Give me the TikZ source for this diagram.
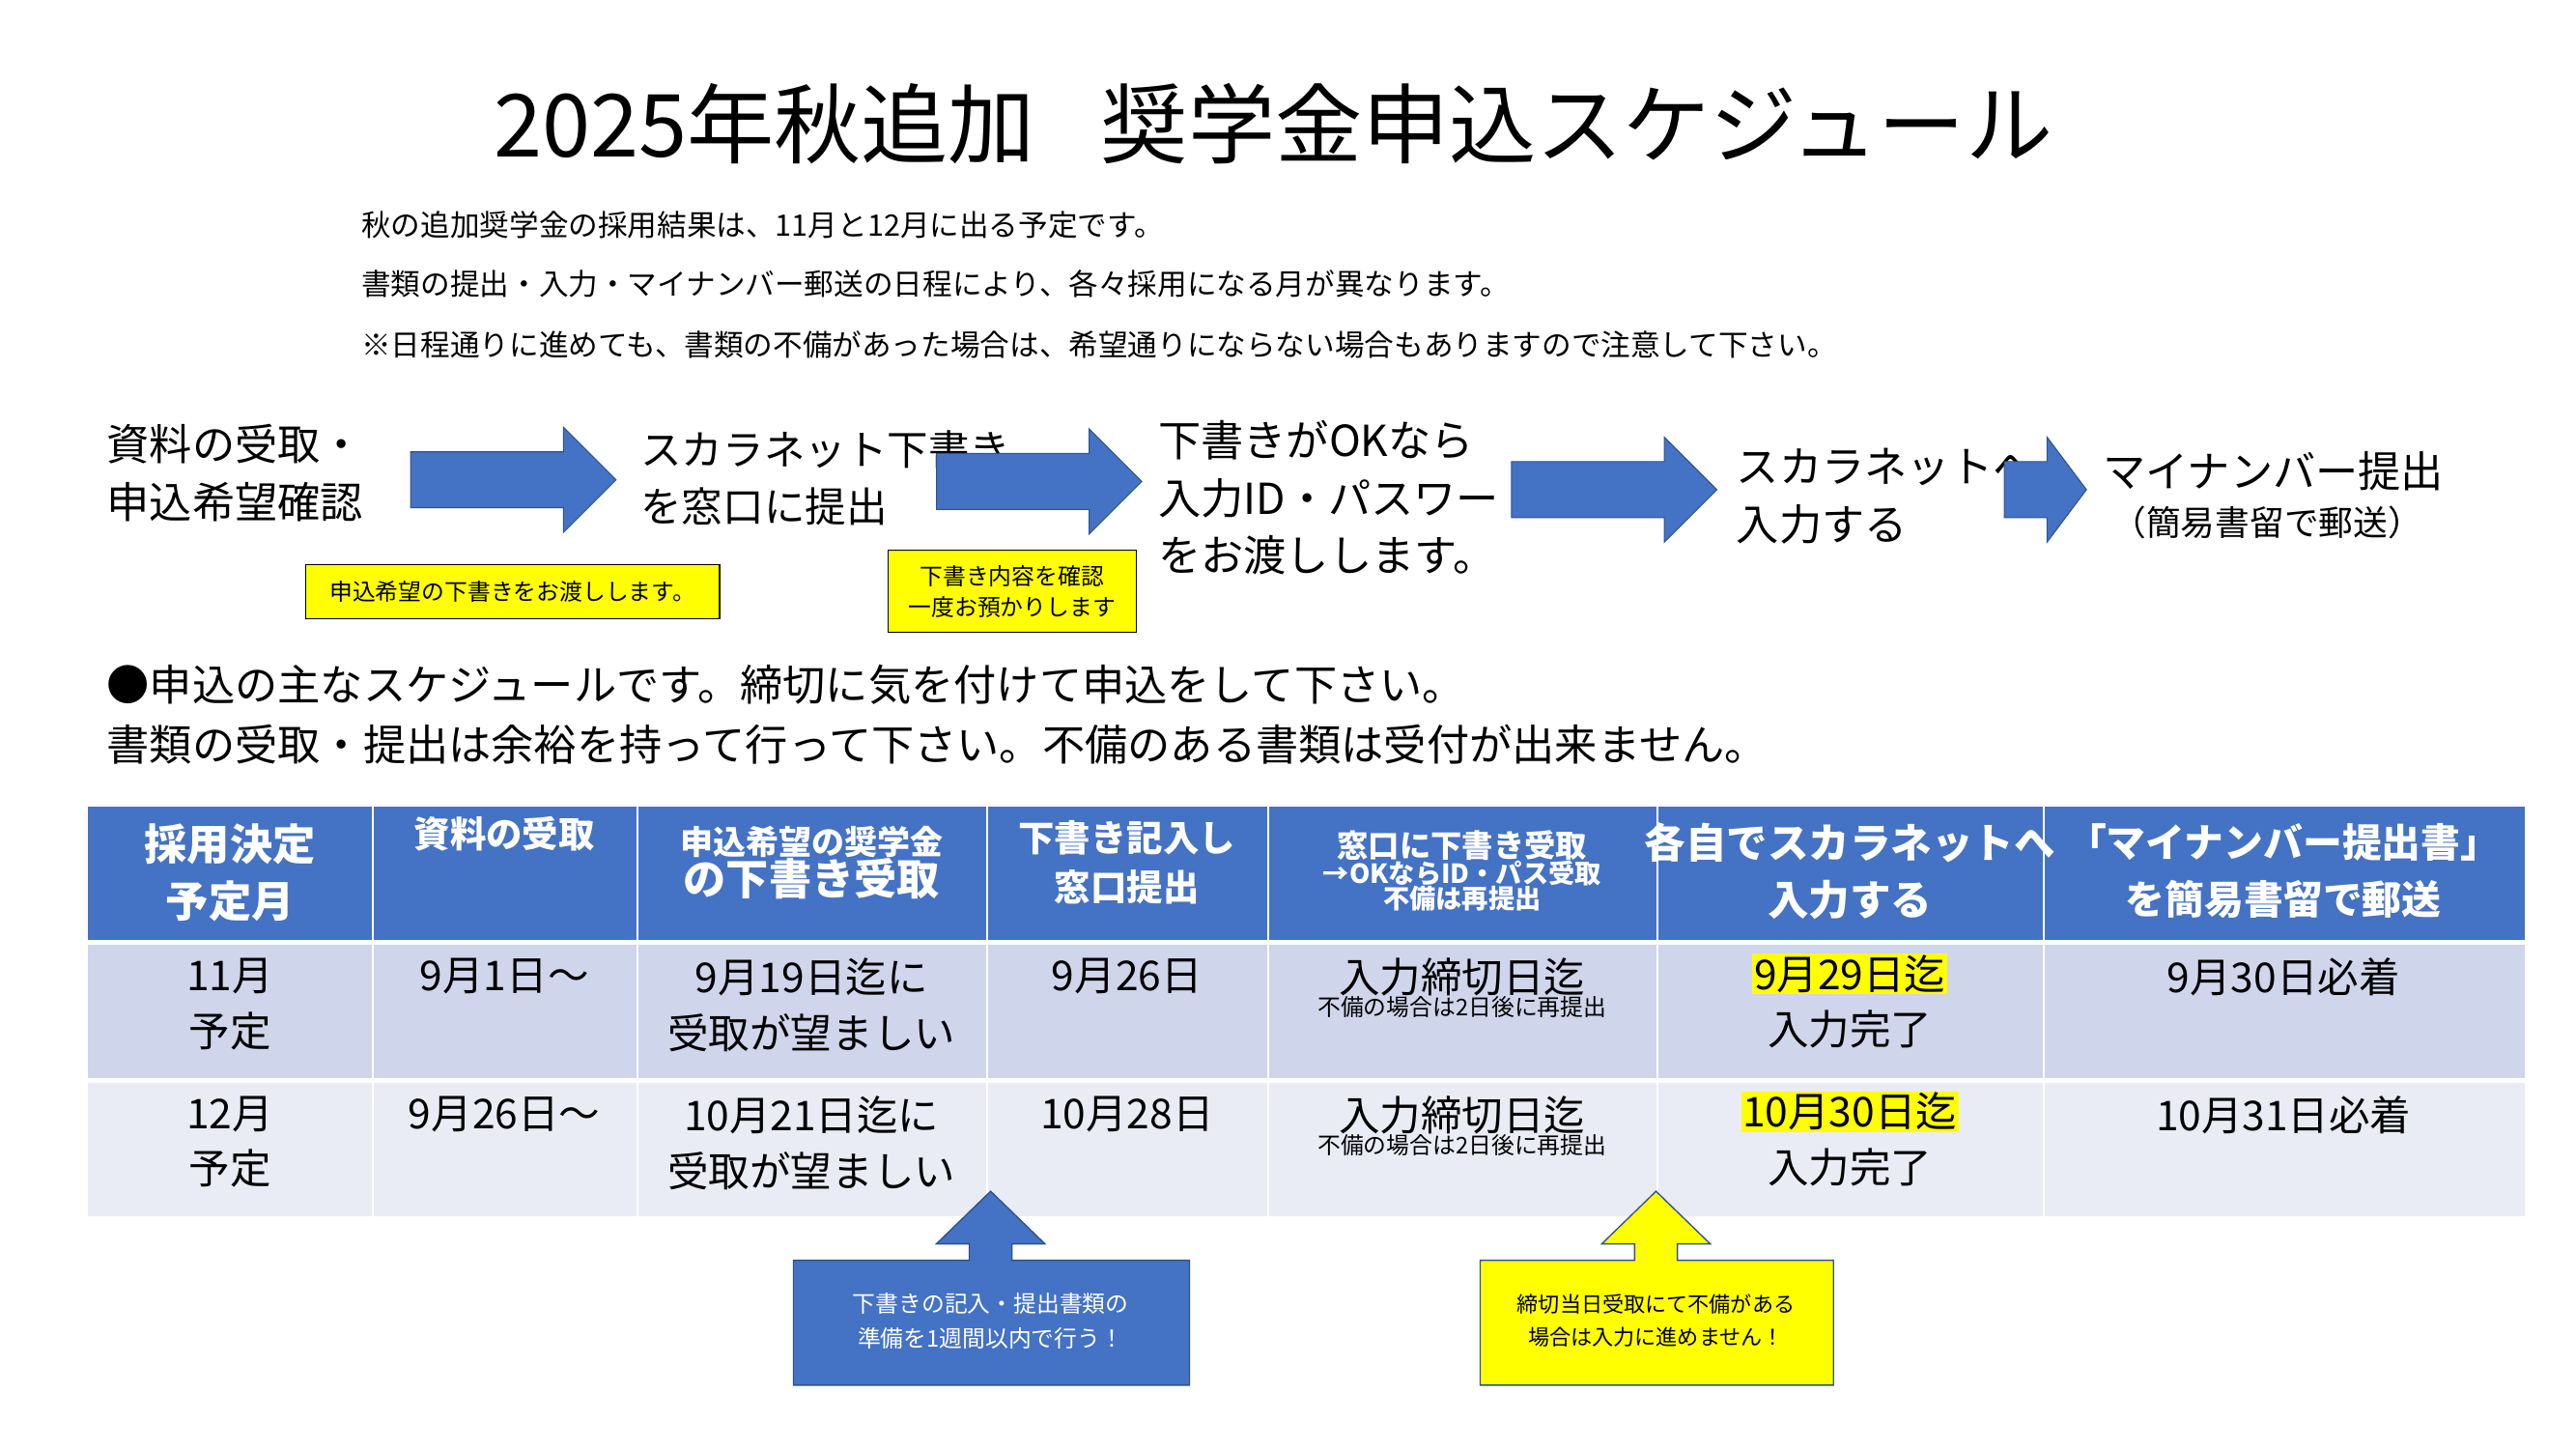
\documentclass[tikz,border=0pt]{standalone}
\usepackage{fontspec}
\setmainfont{Noto Sans CJK JP}
\newcommand\fs[2]{\fontsize{#1mm}{#2mm}\selectfont}
\definecolor{bl}{HTML}{4472C4}
\definecolor{bd}{HTML}{2F528F}
\definecolor{ra}{HTML}{CFD5EA}
\definecolor{rb}{HTML}{E9EBF5}
\definecolor{yl}{HTML}{FFFF00}
\begin{document}
\begin{tikzpicture}[x=1mm,y=-1mm,
  lt/.style={anchor=west,inner sep=0,align=left},
  bigarrow/.style={fill=bl,draw=bd,line width=0.6mm},
  hd/.style={text=white,align=center,inner sep=0},
  cell/.style={align=center,inner sep=0,anchor=north}]
\useasboundingbox (0,0) rectangle (1568,882);
\fill[white] (0,0) rectangle (1568,882);
\node[inner sep=0,font=\fs{53}{60}] (title) at (775,75) {2025年秋追加\hspace{40mm}奨学金申込スケジュール};
\node[lt,font=\fs{18}{22}] (i1) at (220,137) {秋の追加奨学金の採用結果は、11月と12月に出る予定です。};
\node[lt,font=\fs{18}{22}] (i2) at (220,173) {書類の提出・入力・マイナンバー郵送の日程により、各々採用になる月が異なります。};
\node[lt,font=\fs{18}{22}] (i3) at (220,210) {※日程通りに進めても、書類の不備があった場合は、希望通りにならない場合もありますので注意して下さい。};
% flow
\node[lt,font=\fs{26}{35}] (f1) at (65,288) {資料の受取・\\申込希望確認};
\node[lt,font=\fs{25}{35}] (f2) at (390,291) {スカラネット下書き\\を窓口に提出};
\node[lt,font=\fs{26}{35}] (f3) at (705,303) {下書きがOKなら\\入力ID・パスワード\\をお渡しします。};
\node[lt,font=\fs{26}{35}] (f4) at (1057,302) {スカラネットへ\\入力する};
\node[lt,font=\fs{26}{32}] (f5) at (1280,287) {マイナンバー提出};
\node[inner sep=0,font=\fs{21}{26}] (f5b) at (1380,318) {（簡易書留で郵送）};
\foreach \xa/\xb/\yc in {250/375/292, 570/695/293, 920/1045/298} {
  \filldraw[bigarrow] (\xa,\yc-17) -- (\xb-32,\yc-17) -- (\xb-32,\yc-32) -- (\xb,\yc) -- (\xb-32,\yc+32) -- (\xb-32,\yc+17) -- (\xa,\yc+17) -- cycle;
}
\filldraw[bigarrow] (1220,281) -- (1246,281) -- (1246,266) -- (1270,298) -- (1246,330) -- (1246,315) -- (1220,315) -- cycle;
\node[draw=black,fill=yl,line width=0.6mm,minimum width=252mm,minimum height=33mm,inner sep=0,font=\fs{14}{18}] (y1) at (312,360) {申込希望の下書きをお渡しします。};
\node[draw=black,fill=yl,line width=0.6mm,minimum width=151mm,minimum height=50mm,inner sep=0,align=center,font=\fs{14}{19}] (y2) at (616,360) {下書き内容を確認\\一度お預かりします};
\node[lt,font=\fs{26}{32}] (b1) at (65,417) {●申込の主なスケジュールです。締切に気を付けて申込をして下さい。};
\node[lt,font=\fs{26}{32}] (b2) at (65,453) {書類の受取・提出は余裕を持って行って下さい。不備のある書類は受付が出来ません。};
% table
\foreach \a/\b in {53/227,227/388,388/601,601/772,772/1009,1009/1244,1244/1537}{
  \fill[bl] (\a,491) rectangle (\b,572);
  \fill[ra] (\a,575) rectangle (\b,656);
  \fill[rb] (\a,659) rectangle (\b,740);
  \draw[white,line width=1.2mm] (\a,491) -- (\a,740);
}
\draw[white,line width=1.2mm] (53,573.5) -- (1537,573.5) (53,657.5) -- (1537,657.5);
\node[hd,font=\bfseries\fs{26}{35}] (h1) at (140,531) {採用決定\\予定月};
\node[hd,anchor=north,font=\bfseries\fs{22}{30}] (h2) at (307,497) {資料の受取};
\node[hd,font=\bfseries] (h3) at (494,525) {\fs{20}{30}申込希望の奨学金\\\fs{26}{30}の下書き受取};
\node[hd,font=\bfseries\fs{22}{30}] (h4) at (686,525) {下書き記入し\\窓口提出};
\node[hd,font=\bfseries] (h5) at (890,530) {\fs{19}{24}窓口に下書き受取\\\fs{16}{22}→OKならID・パス受取\\\fs{16}{22}不備は再提出};
\node[hd,font=\bfseries\fs{25}{35}] (h6) at (1126,530) {各自でスカラネットへ\\入力する};
\node[hd,font=\bfseries\fs{24}{35}] (h7) at (1390,530) {「マイナンバー提出書」\\を簡易書留で郵送};
\foreach \r/\y/\m/\d/\e/\f/\g/\hh in {1/583/11/9月1日～/9月19日迄に/9月26日/9月29日迄/9月30日必着, 2/667/12/9月26日～/10月21日迄に/10月28日/10月30日迄/10月31日必着}{
  \node[cell,font=\fs{25}{34}] (m\r) at (140,\y) {\m 月\\予定};
  \node[cell,font=\fs{25}{34}] (d\r) at (307,\y) {\d};
  \node[cell,font=\fs{25}{34}] (e\r) at (494,\y) {\e\\受取が望ましい};
  \node[cell,font=\fs{25}{34}] (f\r) at (686,\y) {\f};
  \node[cell] (g\r) at (890,\y) {\fs{25}{34}入力締切日迄\\\fs{14}{20}不備の場合は2日後に再提出};
  \node[cell,fill=yl,inner sep=1mm,font=\fs{25}{30}] (hl\r) at (1126,\y-3) {\g};
  \node[cell,font=\fs{25}{30}] (k\r) at (1126,\y+32) {入力完了};
  \node[cell,font=\fs{25}{34}] (l\r) at (1390,\y) {\hh};
}
% callouts
\draw[fill=bl,draw=bd,line width=0.8mm] (483,767) -- (590,767) -- (590,757) -- (570,757) -- (603,725) -- (636,757) -- (616,757) -- (616,767) -- (724,767) -- (724,843) -- (483,843) -- cycle;
\node[text=white,align=center,inner sep=0,font=\fs{14}{21}] (c1) at (603,804) {下書きの記入・提出書類の\\準備を1週間以内で行う！};
\draw[fill=yl,draw=bd,line width=0.8mm] (901,767) -- (995,767) -- (995,757) -- (975,757) -- (1008,725) -- (1041,757) -- (1021,757) -- (1021,767) -- (1116,767) -- (1116,843) -- (901,843) -- cycle;
\node[align=center,inner sep=0,font=\fs{13}{20}] (c2) at (1008,804) {締切当日受取にて不備がある\\場合は入力に進めません！};
\end{tikzpicture}
\end{document}
